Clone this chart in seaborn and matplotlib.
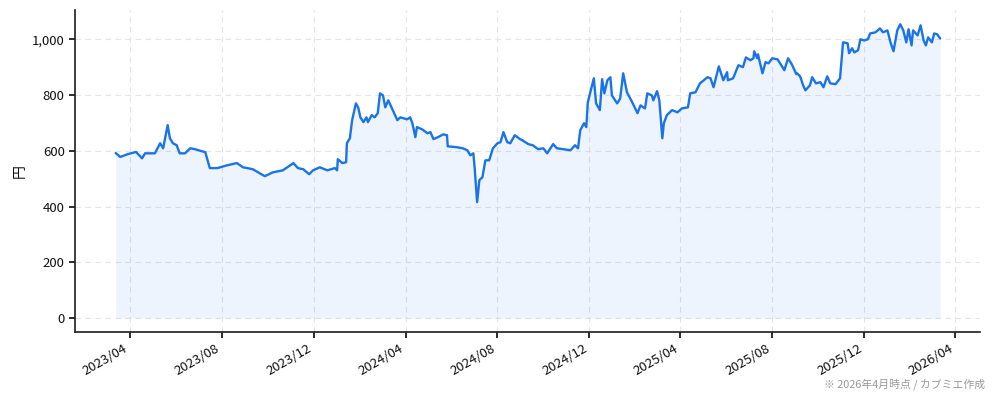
import pandas as pd
import matplotlib
matplotlib.use("Agg")
import matplotlib.pyplot as plt
import matplotlib.dates as mdates
import matplotlib.ticker as mticker
import seaborn as sns

# price trace (date, yen)
dates = [
    "2023-03-13", "2023-03-19", "2023-03-29", "2023-04-09", "2023-04-17", "2023-04-21",
    "2023-05-04", "2023-05-11", "2023-05-15", "2023-05-21", "2023-05-24", "2023-05-28",
    "2023-06-02", "2023-06-06", "2023-06-13", "2023-06-20", "2023-06-26", "2023-07-10",
    "2023-07-16", "2023-07-26", "2023-08-08", "2023-08-21", "2023-08-29", "2023-09-11",
    "2023-09-27", "2023-10-08", "2023-10-21", "2023-11-04", "2023-11-10", "2023-11-17",
    "2023-11-25", "2023-11-30", "2023-12-09", "2023-12-19", "2023-12-29", "2024-01-01",
    "2024-01-02", "2024-01-08", "2024-01-13", "2024-01-14", "2024-01-18", "2024-01-21",
    "2024-01-26", "2024-01-29", "2024-02-01", "2024-02-05", "2024-02-09", "2024-02-11",
    "2024-02-16", "2024-02-20", "2024-02-24", "2024-02-27", "2024-03-02", "2024-03-05",
    "2024-03-09", "2024-03-14", "2024-03-18", "2024-03-21", "2024-03-25", "2024-04-03",
    "2024-04-07", "2024-04-10", "2024-04-14", "2024-04-16", "2024-04-23", "2024-04-30",
    "2024-05-04", "2024-05-08", "2024-05-14", "2024-05-21", "2024-05-26", "2024-05-27",
    "2024-06-08", "2024-06-16", "2024-06-22", "2024-06-26", "2024-06-30", "2024-07-02",
    "2024-07-05", "2024-07-08", "2024-07-12", "2024-07-16", "2024-07-21", "2024-07-26",
    "2024-08-01", "2024-08-05", "2024-08-09", "2024-08-14", "2024-08-18", "2024-08-24",
    "2024-08-31", "2024-09-03", "2024-09-11", "2024-09-17", "2024-09-24", "2024-10-01",
    "2024-10-06", "2024-10-14", "2024-10-19", "2024-10-27", "2024-11-06", "2024-11-12",
    "2024-11-16", "2024-11-19", "2024-11-24", "2024-11-27", "2024-11-29", "2024-12-07",
    "2024-12-10", "2024-12-15", "2024-12-18", "2024-12-21", "2024-12-25", "2024-12-29",
    "2024-12-31", "2025-01-07", "2025-01-11", "2025-01-15", "2025-01-20", "2025-01-27",
    "2025-02-03", "2025-02-07", "2025-02-13", "2025-02-16", "2025-02-22", "2025-02-24",
    "2025-03-01", "2025-03-04", "2025-03-08", "2025-03-10", "2025-03-14", "2025-03-21",
    "2025-03-28", "2025-04-03", "2025-04-11", "2025-04-14", "2025-04-21", "2025-04-27",
    "2025-05-07", "2025-05-11", "2025-05-15", "2025-05-22", "2025-05-28", "2025-06-02",
    "2025-06-03", "2025-06-10", "2025-06-17", "2025-06-23", "2025-06-27", "2025-07-03",
    "2025-07-07", "2025-07-08", "2025-07-12", "2025-07-13", "2025-07-19", "2025-07-23",
    "2025-07-27", "2025-08-01", "2025-08-08", "2025-08-13", "2025-08-17", "2025-08-22",
    "2025-08-27", "2025-09-02", "2025-09-03", "2025-09-07", "2025-09-11", "2025-09-14",
    "2025-09-20", "2025-09-23", "2025-09-28", "2025-10-04", "2025-10-08", "2025-10-13",
    "2025-10-17", "2025-10-24", "2025-10-30", "2025-11-03", "2025-11-09", "2025-11-11",
    "2025-11-15", "2025-11-18", "2025-11-23", "2025-11-26", "2025-12-01", "2025-12-06",
    "2025-12-09", "2025-12-16", "2025-12-22", "2025-12-26", "2026-01-01", "2026-01-05",
    "2026-01-09", "2026-01-14", "2026-01-18", "2026-01-22", "2026-01-26", "2026-01-29",
    "2026-02-02", "2026-02-04", "2026-02-10", "2026-02-14", "2026-02-18", "2026-02-21",
    "2026-02-24", "2026-03-01", "2026-03-04", "2026-03-08", "2026-03-12",
]
prices = [
    592, 578, 588, 596, 573, 591,
    591, 627, 609, 692, 645, 627,
    620, 591, 591, 609, 606, 595,
    538, 538, 548, 556, 541, 534,
    509, 523, 530, 556, 538, 534,
    516, 530, 541, 530, 538, 530,
    570, 556, 559, 627, 645, 710,
    770, 756, 720, 703, 720, 703,
    728, 720, 735, 806, 799, 756,
    781, 752, 728, 710, 720, 713,
    720, 699, 649, 685, 677, 663,
    667, 642, 649, 659, 656, 616,
    613, 609, 602, 584, 591, 530,
    416, 495, 505, 566, 566, 609,
    627, 631, 667, 631, 627, 656,
    642, 638, 624, 620, 606, 609,
    591, 624, 609, 606, 602, 620,
    609, 674, 699, 685, 774, 860,
    770, 746, 857, 806, 853, 864,
    799, 770, 788, 878, 810, 774,
    735, 763, 752, 806, 799, 781,
    814, 781, 645, 699, 728, 746,
    738, 752, 756, 806, 810, 842,
    864, 860, 828, 903, 853, 882,
    853, 860, 907, 900, 935, 925,
    932, 957, 932, 946, 878, 918,
    914, 932, 928, 907, 889, 932,
    910, 875, 878, 867, 835, 817,
    835, 864, 842, 846, 828, 867,
    842, 839, 860, 989, 986, 950,
    968, 953, 961, 1000, 996, 1000,
    1021, 1025, 1039, 1025, 1032, 989,
    957, 1032, 1054, 1032, 989, 1036,
    978, 1032, 1014, 1050, 996, 978,
    1007, 989, 1021, 1018, 1003,
]

df = pd.DataFrame({"date": pd.to_datetime(dates), "price": prices})

sns.set_theme(style="ticks")
plt.rcParams["font.family"] = ["Noto Sans CJK JP", "DejaVu Sans"]

line_color = "#1a73e8"

fig, ax = plt.subplots(figsize=(9.94, 4.01), dpi=100)
fig.subplots_adjust(left=0.0755, right=0.986, top=0.975, bottom=0.172)

sns.lineplot(data=df, x="date", y="price", ax=ax, color=line_color, linewidth=1.7)
ax.fill_between(df["date"], df["price"], 0, color=line_color, alpha=0.08, linewidth=0)

ax.set_xlim(pd.Timestamp("2023-01-18"), pd.Timestamp("2026-05-04"))
ax.set_ylim(-50, 1105)
ax.yaxis.set_major_locator(mticker.MultipleLocator(200))
ax.yaxis.set_major_formatter(mticker.FuncFormatter(lambda v, p: f"{int(v):,}"))
ax.xaxis.set_major_locator(mdates.MonthLocator(bymonth=[4, 8, 12]))
ax.xaxis.set_major_formatter(mdates.DateFormatter("%Y/%m"))

ax.grid(True, linestyle=(0, (5, 4)), color="#e3e3e8", linewidth=0.8)
ax.set_xlabel("")
ax.set_ylabel("円", fontsize=10, color="#111111")
ax.tick_params(labelsize=9.5, colors="#111111", length=4)
plt.setp(ax.get_xticklabels(), rotation=30, ha="right")
sns.despine(ax=ax)

fig.text(0.991, 0.028, "※ 2026年4月時点 / カブミエ作成", ha="right", va="bottom",
         fontsize=7.8, color="#999999")

fig.savefig("out.png", dpi=100)
